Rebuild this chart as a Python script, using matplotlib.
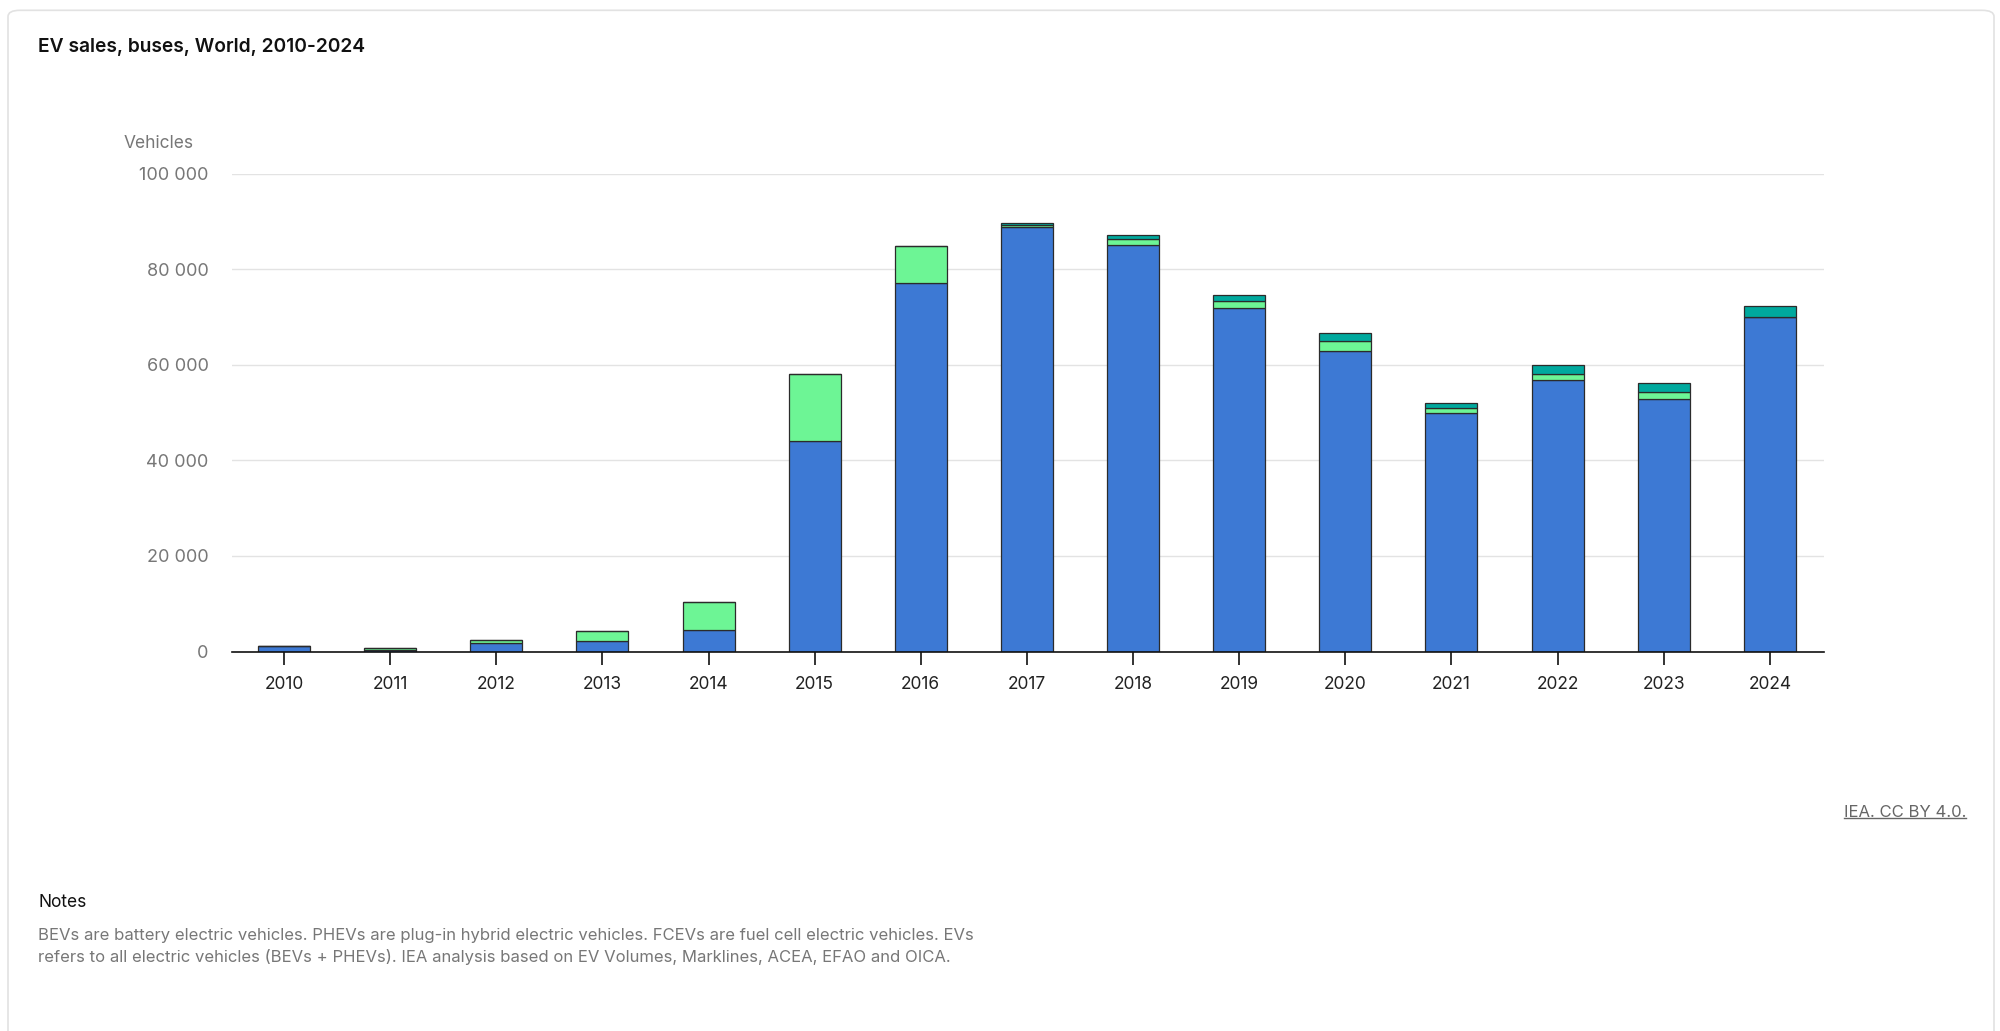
import matplotlib
matplotlib.use("Agg")
import matplotlib.pyplot as plt
from matplotlib.patches import FancyBboxPatch
import numpy as np

plt.rcParams['font.family'] = ['Inter', 'DejaVu Sans']

years = ["2010", "2011", "2012", "2013", "2014", "2015", "2016", "2017",
         "2018", "2019", "2020", "2021", "2022", "2023", "2024"]
bev = [1100, 350, 1700, 2300, 4450, 44000, 77000, 88900,
       85100, 71800, 62800, 49900, 56800, 52900, 70000]
phev = [0, 400, 750, 1950, 6000, 14000, 7800, 250,
        1200, 1600, 2200, 1000, 1200, 1500, 0]
fcev = [0, 0, 0, 0, 0, 0, 100, 400,
        900, 1200, 1550, 1200, 1900, 1800, 2200]
yticks = [0, 20000, 40000, 60000, 80000, 100000]
ytick_labels = ["0", "20 000", "40 000", "60 000", "80 000", "100 000"]

c_bev = "#3d79d4"
c_phev = "#6df595"
c_fcev = "#00a99e"

fig = plt.figure(figsize=(20, 10.31), dpi=100)
fig.patch.set_facecolor("white")

card = FancyBboxPatch((0.004, -0.02), 0.993, 1.01, boxstyle="round,pad=0,rounding_size=0.006",
                      transform=fig.transFigure, facecolor="white", edgecolor="#e2e2e2",
                      linewidth=1.2, zorder=-10)
fig.patches.append(card)

ax = fig.add_axes([0.116, 0.368, 0.796, 0.4637])
x = np.arange(len(years))
w = 0.49
edge = dict(edgecolor="#2b2b2b", linewidth=0.9)
ax.bar(x, bev, w, color=c_bev, zorder=3, **edge)
b2 = np.array(bev)
ax.bar(x, phev, w, bottom=b2, color=c_phev, zorder=3, **edge)
b3 = b2 + np.array(phev)
ax.bar(x, fcev, w, bottom=b3, color=c_fcev, zorder=3, **edge)

ax.set_xlim(-0.49, len(years) - 0.49)
ax.set_ylim(0, 100000)
ax.set_yticks(yticks)
ax.set_yticklabels(ytick_labels)
ax.set_xticks(x)
ax.set_xticklabels(years)
ax.grid(axis="y", color="#e3e3e3", linewidth=1.0, zorder=0)
for s in ["top", "right", "left"]:
    ax.spines[s].set_visible(False)
ax.spines["bottom"].set_color("#111111")
ax.spines["bottom"].set_linewidth(1.2)
ax.spines["bottom"].set_zorder(4)
ax.tick_params(axis="y", length=0, pad=17, labelsize=13, labelcolor="#777777")
ax.tick_params(axis="x", length=9.5, width=1.2, color="#111111", pad=8,
               labelsize=12.5, labelcolor="#222222")

fig.text(0.019, 0.9545, "EV sales, buses, World, 2010-2024", fontsize=13.8,
         fontweight="semibold", color="#111111", va="center", ha="left")
fig.text(0.062, 0.861, "Vehicles", fontsize=12.5, color="#777777", va="center", ha="left")

t = fig.text(0.983, 0.2115, "IEA. CC BY 4.0.", fontsize=12, color="#666666",
             va="center", ha="right")
fig.canvas.draw()
bb = t.get_window_extent()
inv = fig.transFigure.inverted()
(x0, y0), (x1, y1) = inv.transform([(bb.x0, bb.y0), (bb.x1, bb.y1)])
fig.add_artist(plt.Line2D([x0, x1], [y0 + 0.002, y0 + 0.002], transform=fig.transFigure,
                          color="#666666", linewidth=1.0))

fig.text(0.019, 0.125, "Notes", fontsize=12.5, color="#111111", va="center", ha="left")
fig.text(0.019, 0.093,
         "BEVs are battery electric vehicles. PHEVs are plug-in hybrid electric vehicles. FCEVs are fuel cell electric vehicles. EVs",
         fontsize=12, color="#777777", va="center", ha="left")
fig.text(0.019, 0.0715,
         "refers to all electric vehicles (BEVs + PHEVs). IEA analysis based on EV Volumes, Marklines, ACEA, EFAO and OICA.",
         fontsize=12, color="#777777", va="center", ha="left")

fig.savefig("out.png", dpi=100, facecolor="white")
